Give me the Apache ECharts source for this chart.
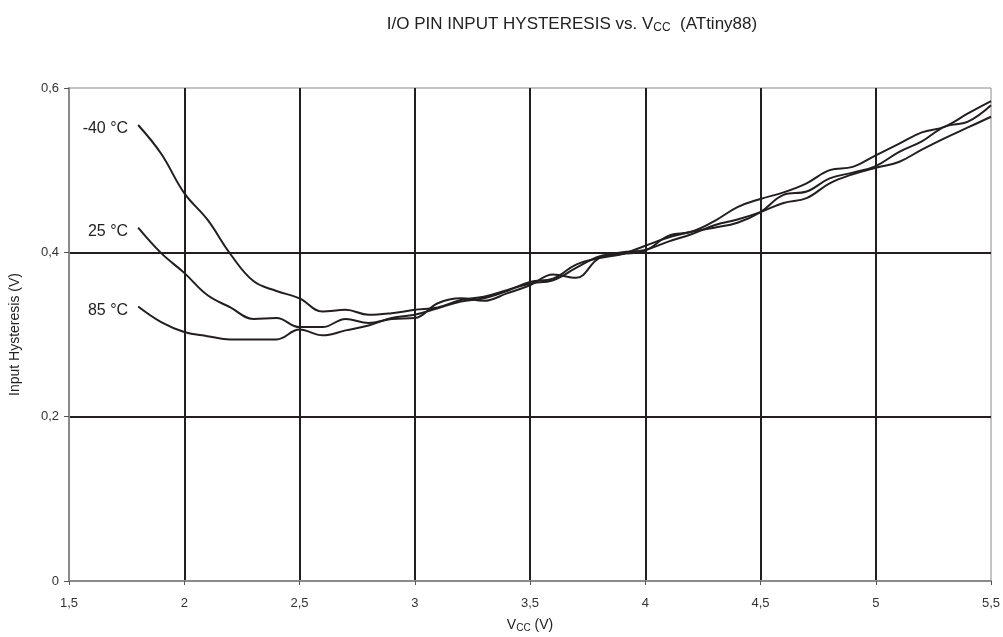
<!DOCTYPE html>
<html>
<head>
<meta charset="utf-8">
<script src="https://cdn.jsdelivr.net/npm/echarts@6/dist/echarts.min.js"></script>
<style>
  html, body { margin: 0; padding: 0; background: #fff; }
  #chart { width: 1003px; height: 637px; }
</style>
</head>
<body>
<div id="chart"></div>
<script>
  // supply voltage samples (V)
  var vcc = [1.8, 1.9, 2.0, 2.1, 2.2, 2.3, 2.4, 2.5, 2.6, 2.7, 2.8, 2.9, 3.0, 3.1, 3.2, 3.3, 3.4, 3.5, 3.6, 3.7,
    3.8, 3.9, 4.0, 4.1, 4.2, 4.3, 4.4, 4.5, 4.6, 4.7, 4.8, 4.9, 5.0, 5.1, 5.2, 5.3, 5.4, 5.5]
  var tempNames = ['-40 °C', '25 °C', '85 °C']
  var hystM40 = [0.555, 0.520, 0.472, 0.440, 0.398, 0.365, 0.353, 0.344, 0.328, 0.330, 0.324, 0.326, 0.330, 0.333,
    0.342, 0.346, 0.354, 0.362, 0.366, 0.381, 0.395, 0.400, 0.403, 0.413, 0.422, 0.433, 0.440, 0.449, 0.460, 0.466,
    0.484, 0.495, 0.503, 0.510, 0.525, 0.539, 0.552, 0.565]
  var hyst25 = [0.430, 0.399, 0.375, 0.348, 0.333, 0.319, 0.320, 0.309, 0.309, 0.319, 0.314, 0.319, 0.320, 0.338,
    0.344, 0.341, 0.350, 0.360, 0.373, 0.369, 0.393, 0.398, 0.402, 0.420, 0.425, 0.438, 0.455, 0.465, 0.473, 0.484,
    0.500, 0.504, 0.518, 0.532, 0.546, 0.553, 0.569, 0.584]
  var hyst85 = [0.334, 0.315, 0.303, 0.298, 0.294, 0.294, 0.294, 0.306, 0.299, 0.305, 0.311, 0.320, 0.324, 0.332,
    0.340, 0.344, 0.353, 0.364, 0.368, 0.385, 0.393, 0.398, 0.408, 0.418, 0.425, 0.430, 0.436, 0.449, 0.470, 0.474,
    0.490, 0.497, 0.505, 0.522, 0.535, 0.553, 0.559, 0.579]

  var font = 'Liberation Sans, Arial, sans-serif'

  function toPoints (ys, name) {
    var pts = []
    for (var i = 0; i < vcc.length; i++) {
      var p = {value: [vcc[i], ys[i]]}
      if (i === 0) {
        p.label = {show: true, position: 'left', distance: 10, offset: [0, 4], formatter: name,
          color: '#222', fontSize: 16, fontFamily: font}
      }
      pts.push(p)
    }
    return pts
  }

  function mkSeries (ys, name) {
    return {
      name: name,
      type: 'line',
      smooth: 0.4,
      symbol: 'circle',
      symbolSize: 0,
      showSymbol: true,
      lineStyle: {color: '#231f20', width: 2},
      itemStyle: {color: '#231f20'},
      data: toPoints(ys, name)
    }
  }

  function comma (v) {
    return String(v).replace('.', ',')
  }

  var chart = echarts.init(document.getElementById('chart'), null, {renderer: 'canvas'})
  chart.setOption({
    animation: false,
    backgroundColor: '#fff',
    title: {
      text: 'I/O PIN INPUT HYSTERESIS vs. V{sub|CC}  (ATtiny88)',
      left: 567,
      top: 10,
      textAlign: 'center',
      textStyle: {
        color: '#222', fontSize: 17, fontWeight: 'normal', fontFamily: font,
        rich: {sub: {fontSize: 12, verticalAlign: 'bottom', padding: [7, 0, 0, 0], color: '#222', fontFamily: font}}
      }
    },
    grid: {left: 69, right: 12, top: 88, bottom: 56, show: true, borderColor: '#8a8a8a', borderWidth: 1,
      outerBoundsMode: 'none', containLabel: false},
    xAxis: {
      type: 'value',
      min: 1.5,
      max: 5.5,
      interval: 0.5,
      name: 'V{sub|CC} (V)',
      nameLocation: 'middle',
      nameGap: 36,
      nameTextStyle: {
        color: '#222', fontSize: 14, fontFamily: font,
        rich: {sub: {fontSize: 10, verticalAlign: 'bottom', padding: [6, 0, 0, 0], color: '#222', fontFamily: font}}
      },
      axisLine: {lineStyle: {color: '#8a8a8a', width: 2}},
      axisTick: {show: true, length: 4, lineStyle: {color: '#555'}},
      axisLabel: {color: '#333', fontSize: 13, fontFamily: font, margin: 16, formatter: comma},
      splitLine: {show: true, showMinLine: false, showMaxLine: false, lineStyle: {color: '#231f20', width: 2}}
    },
    yAxis: {
      type: 'value',
      min: 0,
      max: 0.6,
      interval: 0.2,
      name: 'Input Hysteresis (V)',
      nameLocation: 'middle',
      nameGap: 47,
      nameTextStyle: {color: '#222', fontSize: 14, fontFamily: font},
      axisLine: {show: true, lineStyle: {color: '#8a8a8a', width: 2}},
      axisTick: {show: true, length: 5, lineStyle: {color: '#555'}},
      axisLabel: {color: '#333', fontSize: 13, fontFamily: font, margin: 10, formatter: comma},
      splitLine: {show: true, showMinLine: false, showMaxLine: false, lineStyle: {color: '#231f20', width: 2}}
    },
    series: [
      mkSeries(hystM40, tempNames[0]),
      mkSeries(hyst25, tempNames[1]),
      mkSeries(hyst85, tempNames[2])
    ]
  })
</script>
</body>
</html>
